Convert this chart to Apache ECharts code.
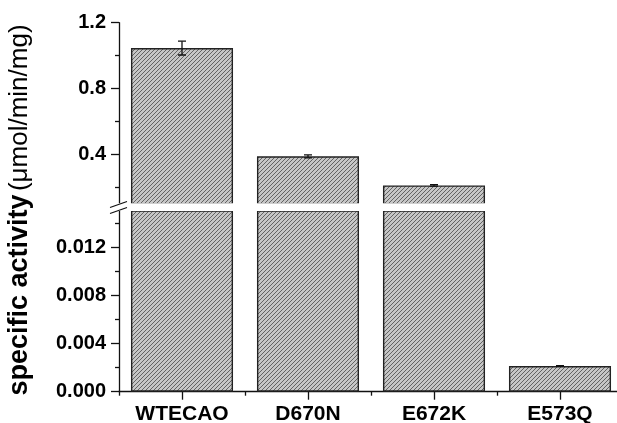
<!DOCTYPE html>
<html>
<head>
<meta charset="utf-8">
<script src="https://cdn.jsdelivr.net/npm/echarts@6/dist/echarts.min.js"></script>
<style>
  html, body { margin: 0; padding: 0; background: #fff; }
  #chart { width: 617px; height: 423px; }
</style>
</head>
<body>
<div id="chart"></div>
<script>
var categories = ['WTECAO', 'D670N', 'E672K', 'E573Q'];
var activity = [1.046, 0.389, 0.213, 0.00213];
var errors = [0.042, 0.009, 0.005, 0.00003];
var upperMajor = [0.4, 0.8, 1.2];
var upperMinor = [0.2, 0.6, 1.0];
var lowerMajor = [0, 0.004, 0.008, 0.012];
var lowerMinor = [0.002, 0.006, 0.01, 0.014];

window.onload = function () {
    var font = 'Liberation Sans, Arial, Helvetica, sans-serif';

    // hatched fill like the original plot
    function makeHatch() {
        var c = document.createElement('canvas');
        c.width = 4; c.height = 4;
        var ctx = c.getContext('2d');
        ctx.fillStyle = '#c6c6c6';
        ctx.fillRect(0, 0, 4, 4);
        ctx.strokeStyle = '#585858';
        ctx.lineWidth = 0.9;
        ctx.beginPath();
        ctx.moveTo(-1, 5); ctx.lineTo(5, -1);
        ctx.moveTo(-1, 1); ctx.lineTo(1, -1);
        ctx.moveTo(3, 5); ctx.lineTo(5, 3);
        ctx.stroke();
        return c;
    }
    var hatch = { image: makeHatch(), repeat: 'repeat' };

    var chart = echarts.init(document.getElementById('chart'));

    var errData = categories.map(function (c, i) { return [i, activity[i], errors[i]]; });

    function renderErr(params, api) {
        var x = api.value(0), v = api.value(1), e = api.value(2);
        var hi = api.coord([x, v + e]);
        var lo = api.coord([x, v - e]);
        var hw = 4;
        var st = { stroke: '#111', lineWidth: 1.3 };
        return {
            type: 'group',
            children: [
                { type: 'line', shape: { x1: hi[0], y1: hi[1], x2: lo[0], y2: lo[1] }, style: st },
                { type: 'line', shape: { x1: hi[0] - hw, y1: hi[1], x2: hi[0] + hw, y2: hi[1] }, style: st },
                { type: 'line', shape: { x1: lo[0] - hw, y1: lo[1], x2: lo[0] + hw, y2: lo[1] }, style: st }
            ]
        };
    }

    var axisLine = { show: true, lineStyle: { color: '#111', width: 1.3 } };
    var tickStyle = { color: '#111', width: 1.3 };
    var tickLabel = { color: '#000', fontSize: 20, fontWeight: 'bold', fontFamily: font, margin: 13 };

    var option = {
        animation: false,
        grid: [
            { left: 119, width: 504, top: 22.7, height: 181.3, outerBoundsMode: 'none' },
            { left: 119, width: 504, top: 211, height: 180.7, outerBoundsMode: 'none' }
        ],
        xAxis: [
            {
                gridIndex: 1, type: 'category', data: categories, position: 'bottom',
                axisLine: axisLine,
                axisTick: { show: true, alignWithLabel: true, length: 8, lineStyle: tickStyle },
                axisLabel: { color: '#000', fontSize: 21, fontWeight: 'bold', fontFamily: font, margin: 12 }
            },
            {
                gridIndex: 1, type: 'category', data: categories, position: 'bottom',
                axisLine: { show: false },
                axisTick: { show: true, length: 4, lineStyle: tickStyle },
                axisLabel: { show: false }
            },
            { gridIndex: 0, type: 'category', data: categories, show: false }
        ],
        yAxis: [
            {
                gridIndex: 0, type: 'value', min: 0.1, max: 1.2, position: 'left',
                axisLine: axisLine, splitLine: { show: false },
                axisTick: { show: true, customValues: upperMajor, length: 8, lineStyle: tickStyle },
                axisLabel: Object.assign({ customValues: upperMajor, formatter: function (v) { return v.toFixed(1); } }, tickLabel)
            },
            {
                gridIndex: 0, type: 'value', min: 0.1, max: 1.2, position: 'left',
                axisLine: { show: false }, splitLine: { show: false }, axisLabel: { show: false },
                axisTick: { show: true, customValues: upperMinor, length: 4, lineStyle: tickStyle }
            },
            {
                gridIndex: 1, type: 'value', min: 0, max: 0.015, position: 'left',
                axisLine: axisLine, splitLine: { show: false },
                axisTick: { show: true, customValues: lowerMajor, length: 8, lineStyle: tickStyle },
                axisLabel: Object.assign({ customValues: lowerMajor, formatter: function (v) { return v.toFixed(3); } }, tickLabel)
            },
            {
                gridIndex: 1, type: 'value', min: 0, max: 0.015, position: 'left',
                axisLine: { show: false }, splitLine: { show: false }, axisLabel: { show: false },
                axisTick: { show: true, customValues: lowerMinor, length: 4, lineStyle: tickStyle }
            }
        ],
        series: [
            {
                type: 'bar', xAxisIndex: 2, yAxisIndex: 0, data: activity, barCategoryGap: '19%', clip: true,
                itemStyle: { color: hatch, borderColor: '#222', borderWidth: 1.4 }
            },
            {
                type: 'bar', xAxisIndex: 0, yAxisIndex: 2, data: activity, barCategoryGap: '19%', clip: true,
                itemStyle: { color: hatch, borderColor: '#222', borderWidth: 1.4 }
            },
            { type: 'custom', xAxisIndex: 2, yAxisIndex: 0, data: errData, renderItem: renderErr, clip: true, z: 5 },
            { type: 'custom', xAxisIndex: 0, yAxisIndex: 2, data: errData, renderItem: renderErr, clip: true, z: 5 }
        ],
        graphic: [
            // axis break
            { type: 'rect', z: 100, shape: { x: 108, y: 203.3, width: 520, height: 7.6 }, style: { fill: '#fff' } },
            { type: 'line', z: 101, shape: { x1: 110, y1: 207.5, x2: 127, y2: 201.5 }, style: { stroke: '#111', lineWidth: 1.3 } },
            { type: 'line', z: 101, shape: { x1: 110, y1: 213.5, x2: 127, y2: 207.5 }, style: { stroke: '#111', lineWidth: 1.3 } },
            {
                type: 'text', z: 101, x: 19.5, y: 210, rotation: Math.PI / 2,
                style: {
                    text: '{a|specific activity} {b|(\u03bcmol/min/mg)}',
                    align: 'center', verticalAlign: 'middle',
                    rich: {
                        a: { fontSize: 27, fontWeight: 'bold', fontFamily: font, fill: '#000' },
                        b: { fontSize: 26, fontWeight: 'normal', fontFamily: font, fill: '#000' }
                    }
                }
            }
        ]
    };

    chart.setOption(option);
};
</script>
</body>
</html>
